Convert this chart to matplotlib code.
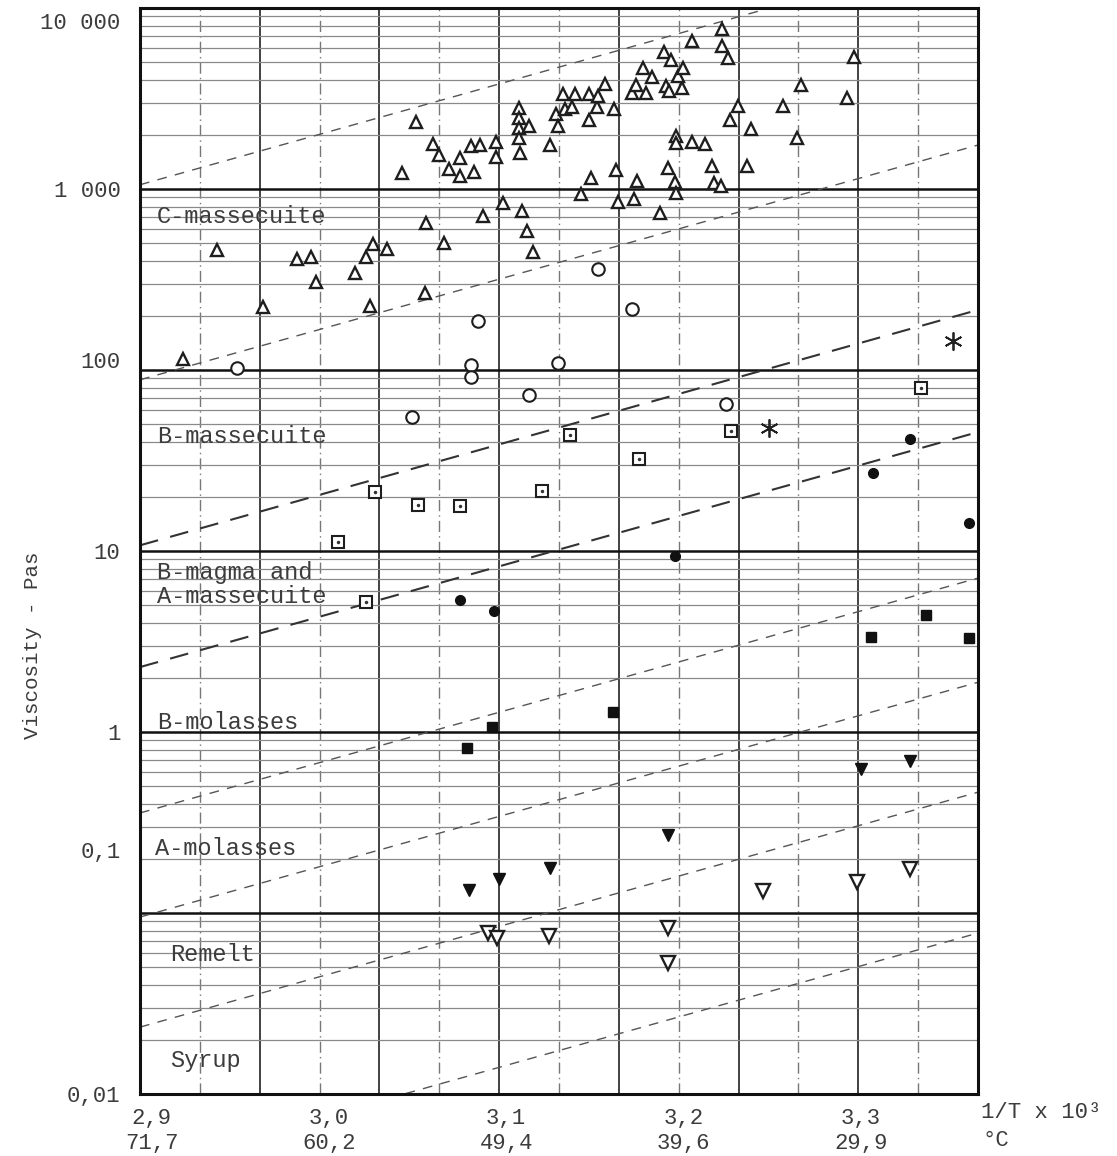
import numpy as np
import matplotlib
matplotlib.use("Agg")
import matplotlib.pyplot as plt
from matplotlib.ticker import FixedLocator, LogLocator, NullFormatter
from matplotlib.transforms import ScaledTranslation

plt.rcParams['font.family'] = ['Liberation Mono', 'DejaVu Sans']

# --- data (x = 1/T x 10^3, y = viscosity in Pa s) ---
c_mass_x = [3.049, 3.059, 3.062, 3.041, 3.068, 3.074, 3.074, 3.080, 3.085, 3.082,
            3.094, 3.094, 3.107, 3.107, 3.107, 3.107, 3.108, 3.113, 3.125, 3.128,
            3.129, 3.132, 3.133, 3.137, 3.139, 3.147, 3.147, 3.151, 3.152, 3.156,
            3.161, 3.148, 3.162, 3.171, 3.173, 3.179, 3.177, 3.182, 3.174, 3.189,
            3.193, 3.190, 3.192, 3.199, 3.197, 3.200, 3.205, 3.196, 3.196, 3.205,
            3.212, 3.191, 3.195, 3.196, 3.216, 3.217, 3.221, 3.222, 3.222, 3.225,
            3.231, 3.226, 3.238, 3.236, 3.256, 3.264, 3.266, 3.296, 3.292,
            3.142, 3.163, 3.172, 3.098, 3.109, 3.087, 3.055, 3.065, 3.112, 3.115,
            3.187, 3.054, 2.937, 2.982, 2.990, 2.993, 3.015, 3.021, 3.025, 3.033,
            2.918, 2.963, 3.023]
c_mass_y = [2340, 1770, 1540, 1225, 1290, 1480, 1180, 1730, 1750, 1240,
            1820, 1500, 2800, 2470, 2170, 1910, 1580, 2230, 1750, 2600,
            2230, 3350, 2770, 2840, 3350, 3350, 2400, 2840, 3260, 3800,
            2770, 1150, 1270, 3390, 3750, 3390, 4660, 4150, 1110, 5710,
            5160, 3710, 3480, 3610, 4210, 4660, 6570, 1960, 1800, 1820,
            1770, 1310, 1090, 950, 1340, 1080, 1040, 7650, 6170, 5290,
            2880, 2400, 2150, 1340, 2880, 1910, 3750, 5360, 3180,
            938, 848, 881, 837, 756, 709, 649, 503, 586, 449,
            737, 266, 460, 410, 421, 306, 344, 421, 497, 466,
            115, 223, 226]

b_mass_x = [2.948, 3.047, 3.080, 3.080, 3.084, 3.113, 3.129, 3.152, 3.171, 3.224]
b_mass_y = [103, 55, 107, 91, 187, 72.8, 109, 361, 217, 64.9]

a_mass_x = [3.005, 3.021, 3.026, 3.050, 3.074, 3.120, 3.136, 3.175, 3.227, 3.334]
a_mass_y = [11.2, 5.23, 21.2, 17.9, 17.7, 21.5, 43.7, 32.2, 46.0, 79.5]

star_x = [3.248, 3.352]
star_y = [47.8, 145]

b_magma_x = [3.074, 3.093, 3.195, 3.307, 3.328, 3.361]
b_magma_y = [5.36, 4.66, 9.38, 27.0, 41.6, 14.3]

b_mol_x = [3.078, 3.092, 3.160, 3.306, 3.337, 3.361]
b_mol_y = [0.816, 1.066, 1.29, 3.35, 4.43, 3.31]

a_mol_x = [3.079, 3.096, 3.125, 3.191, 3.300, 3.328]
a_mol_y = [0.134, 0.154, 0.177, 0.270, 0.625, 0.691]

remelt_x = [3.090, 3.095, 3.124, 3.191, 3.191, 3.245, 3.298, 3.328]
remelt_y = [0.0776, 0.0728, 0.0746, 0.0826, 0.0530, 0.132, 0.148, 0.175]

# dashed reference lines: viscosity at 1/T = 2.90 and 3.35
ref_x = [2.90, 3.35]
ref_lines = [(1100, 19000), (92, 1580), (11.2, 194), (2.38, 41),
             (0.372, 6.4), (0.099, 1.7), (0.0244, 0.42), (0.00406, 0.070)]

region_names = ["C-massecuite", "B-massecuite", "B-magma and\nA-massecuite",
                "B-molasses", "A-molasses", "Remelt", "Syrup"]

x_ticks = [2.9, 3.0, 3.1, 3.2, 3.3]
x_tick_labels = ["2,9\n71,7", "3,0\n60,2", "3,1\n49,4", "3,2\n39,6", "3,3\n29,9"]
y_ticks = [0.01, 0.1, 1, 10, 100, 1000, 10000]
y_tick_labels = ["0,01", "0,1", "1", "10", "100", "1 000", "10 000"]

W, H = 1117, 1156
fig = plt.figure(figsize=(W / 100, H / 100), dpi=100)
ax = fig.add_axes([140 / W, 1 - 1094 / H, 838 / W, 1086 / H])

xlo, xhi = 2.8935, 3.3661
ax.set_xlim(xlo, xhi)
ax.set_yscale('log')
ax.set_ylim(0.01, 10000)

txt = '#3c3c3c'

# horizontal grid: decades thick, log subdivisions thin
ax.yaxis.set_major_locator(FixedLocator(y_ticks))
ax.yaxis.set_minor_locator(LogLocator(base=10, subs=np.arange(2, 10)))
ax.yaxis.set_minor_formatter(NullFormatter())
ax.grid(True, which='major', axis='y', color='#111', lw=1.8)
ax.grid(True, which='minor', axis='y', color='#8a8a8a', lw=0.9)

# vertical grid, evenly spaced over the frame, alternating solid / dash-dot
vx = np.linspace(xlo, xhi, 15)[1:-1]
for i, v in enumerate(vx):
    if i % 2 == 1:
        ax.axvline(v, color='#333', lw=1.3, zorder=1)
    else:
        ax.axvline(v, color='#777', lw=1.0, ls=(0, (8, 3, 1, 3)), zorder=1)

# dashed trend lines, extended to the frame edges
for k, (v1, v2) in enumerate(ref_lines):
    s = (np.log10(v2) - np.log10(v1)) / (ref_x[1] - ref_x[0])
    ya = 10 ** (np.log10(v1) + s * (xlo - ref_x[0]))
    yb = 10 ** (np.log10(v1) + s * (xhi - ref_x[0]))
    if k in (2, 3):
        ax.plot([xlo, xhi], [ya, yb], color='#333', lw=1.5, ls=(0, (9, 6)), zorder=2)
    else:
        ax.plot([xlo, xhi], [ya, yb], color='#555', lw=1.0, ls=(0, (7, 6)), zorder=2)

# data points
ax.plot(c_mass_x, c_mass_y, ls='none', marker='^', ms=9, mfc='white', mec='#1e1e1e', mew=1.7, zorder=5)
ax.plot(b_mass_x, b_mass_y, ls='none', marker='o', ms=9, mfc='white', mec='#1e1e1e', mew=1.5, zorder=5)
ax.plot(a_mass_x, a_mass_y, ls='none', marker='s', ms=9, mfc='white', mec='#1e1e1e', mew=1.5, zorder=5)
ax.plot(a_mass_x, a_mass_y, ls='none', marker='.', ms=3, color='#333', zorder=6)
ax.plot(star_x, star_y, ls='none', marker=(6, 2, 0), ms=13, mec='#222', mew=1.3, zorder=5)
ax.plot(b_magma_x, b_magma_y, ls='none', marker='o', ms=7, color='#111', zorder=5)
ax.plot(b_mol_x, b_mol_y, ls='none', marker='s', ms=7.5, color='#111', zorder=5)
ax.plot(a_mol_x, a_mol_y, ls='none', marker='v', ms=8, color='#111', zorder=5)
ax.plot(remelt_x, remelt_y, ls='none', marker='v', ms=10, mfc='white', mec='#1e1e1e', mew=1.7, zorder=5)

# region labels
label_pos = [(0.020, 0.808), (0.020, 0.605), (0.020, 0.469), (0.020, 0.342),
             (0.018, 0.226), (0.036, 0.128), (0.036, 0.031)]
for name, (px, py) in zip(region_names, label_pos):
    ax.text(px, py, name, transform=ax.transAxes, fontsize=17, color=txt,
            ha='left', va='center', linespacing=1.05, zorder=4)

# ticks
ax.set_xticks(x_ticks)
ax.set_xticklabels(x_tick_labels, fontsize=16, color=txt, linespacing=1.25)
ax.set_yticklabels(y_tick_labels, fontsize=16, color=txt)
ax.tick_params(axis='both', which='both', length=0)
ax.tick_params(axis='y', pad=14)
ax.tick_params(axis='x', pad=10)

# nudge a few y labels to where the original has them
shifts = {"0,1": 63, "100": 10, "10 000": -13}
for lab in ax.get_yticklabels():
    dy = shifts.get(lab.get_text(), 0)
    if dy:
        lab.set_transform(lab.get_transform() + ScaledTranslation(0, dy / 100, fig.dpi_scale_trans))

for sp in ax.spines.values():
    sp.set_linewidth(2.2)
    sp.set_color('#111')

fig.text(33 / W, 1 - 645 / H, "Viscosity - Pas", rotation=90, fontsize=15,
         color=txt, ha='center', va='center')
fig.text(981 / W, 1 - 1112 / H, "1/T x 10³", fontsize=16, color=txt, ha='left', va='center')
fig.text(983 / W, 1 - 1141 / H, "°C", fontsize=16, color=txt, ha='left', va='center')

fig.savefig("out.png", dpi=100, facecolor='white')
